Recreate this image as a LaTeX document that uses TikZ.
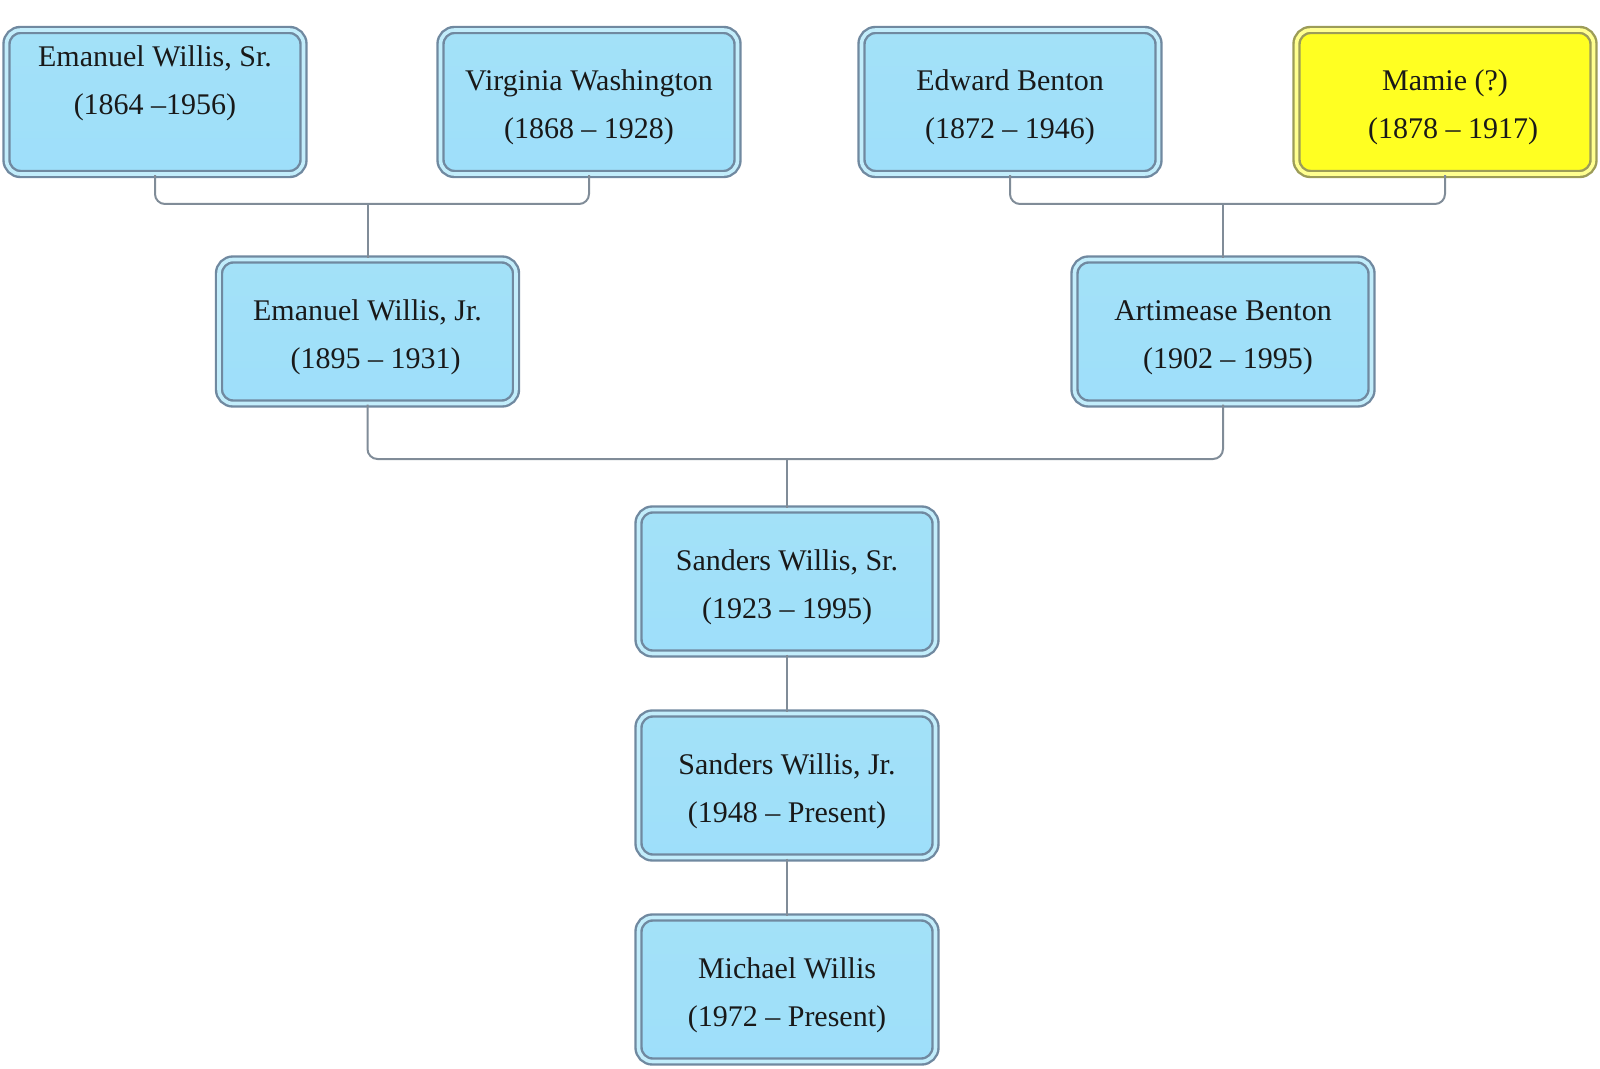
\documentclass[tikz,border=0pt]{standalone}
\usepackage{fontspec}
\setmainfont{Liberation Serif}
\definecolor{bordc}{HTML}{7089A0}
\definecolor{gapc}{HTML}{C2EDFB}
\definecolor{topc}{HTML}{A3E1F8}
\definecolor{midc}{HTML}{B6EBFB}
\definecolor{botc}{HTML}{9EDFFA}
\definecolor{ybord}{HTML}{9C9C58}
\definecolor{ygap}{HTML}{FFFF90}
\definecolor{yfill}{HTML}{FFFF22}
\definecolor{connc}{HTML}{808C98}
\newcommand{\topstrut}{\rule{0pt}{17pt}}
\newcommand{\botstrut}{\rule[-4pt]{0pt}{4pt}}
\begin{document}
\begin{tikzpicture}[x=0.5pt,y=-0.5pt,
  person/.style={draw=bordc, line width=1.2pt, double=gapc, double distance=1.8pt,
    rounded corners=7pt, minimum width=148.5pt, minimum height=72pt, inner sep=0pt,
    top color=topc, middle color=midc, bottom color=botc,
    align=center, font=\fontsize{15}{24}\selectfont, text=black!90},
  yperson/.style={person, draw=ybord, double=ygap, top color=yfill, middle color=yfill, bottom color=yfill},
  conn/.style={draw=connc, line width=1pt, rounded corners=5pt}]
\useasboundingbox (0,0) rectangle (1600,1069);
\coordinate (j1) at (367.5,204);
\coordinate (j3) at (1223,204);
\coordinate (j2) at (787,459);
\node[person] (a1) at (155,102) {\topstrut Emanuel Willis, Sr.\\(1864 –1956)\\\botstrut};
\node[person] (a2) at (589,102) {\topstrut Virginia Washington\\(1868 – 1928)\botstrut};
\node[person] (a3) at (1010,102) {\topstrut Edward Benton\\(1872 – 1946)\botstrut};
\node[yperson] (a4) at (1445,102) {\topstrut Mamie (?)\\\hspace*{8pt}(1878 – 1917)\botstrut};
\node[person] (b1) at (367.5,331.5) {\topstrut Emanuel Willis, Jr.\\\hspace*{8pt}(1895 – 1931)\botstrut};
\node[person] (b2) at (1223,331.5) {\topstrut Artimease Benton\\\hspace*{5pt}(1902 – 1995)\botstrut};
\node[person] (c) at (787,581.5) {\topstrut Sanders Willis, Sr.\\(1923 – 1995)\botstrut};
\node[person] (d) at (787,785.5) {\topstrut Sanders Willis, Jr.\\(1948 – Present)\botstrut};
\node[person] (e) at (787,989.5) {\topstrut Michael Willis\\(1972 – Present)\botstrut};
\draw[conn] (a1.south) |- (j1) -| (a2.south);
\draw[conn] (j1) -- (b1.north);
\draw[conn] (a3.south) |- (j3) -| (a4.south);
\draw[conn] (j3) -- (b2.north);
\draw[conn] (b1.south) |- (j2) -| (b2.south);
\draw[conn] (j2) -- (c.north);
\draw[conn] (c.south) -- (d.north);
\draw[conn] (d.south) -- (e.north);
\end{tikzpicture}
\end{document}
